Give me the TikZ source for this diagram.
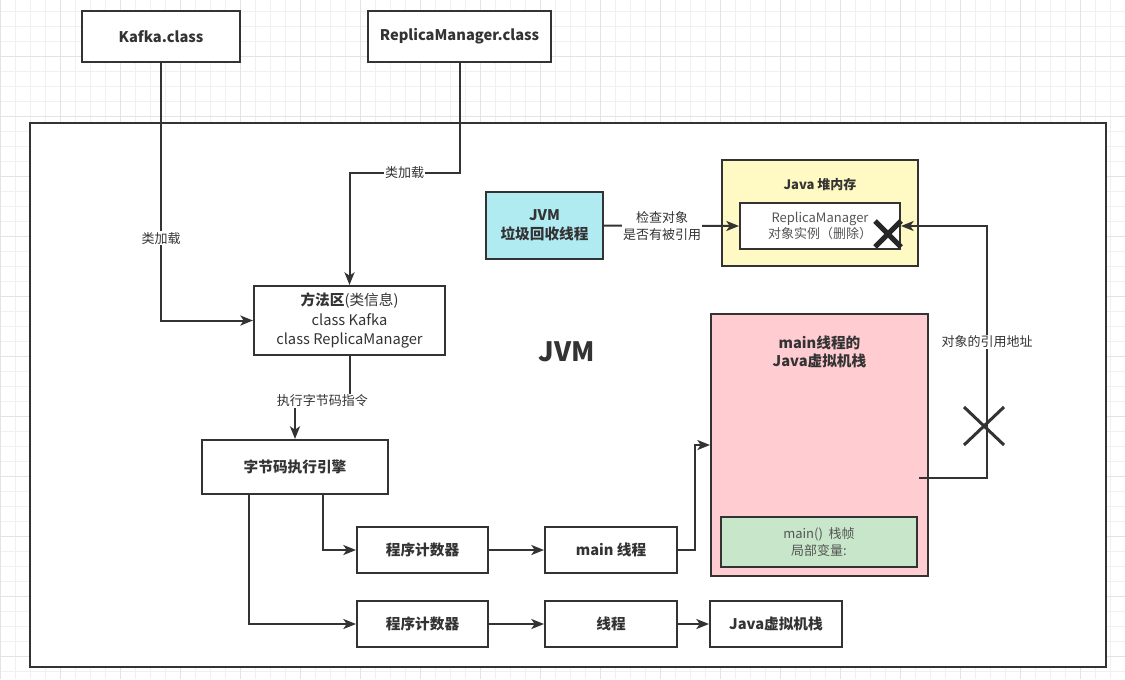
\documentclass[tikz,border=0pt]{standalone}
\usepackage{fontspec}
\setmainfont{Noto Sans CJK SC}
\usetikzlibrary{arrows.meta, positioning, calc}

\definecolor{linegray}{HTML}{333333}
\definecolor{softgray}{HTML}{555555}
\definecolor{gcblue}{HTML}{B1EBF2}
\definecolor{heapyellow}{HTML}{FFF9C4}
\definecolor{stackpink}{HTML}{FFCCD2}
\definecolor{framegreen}{HTML}{C8E6C9}
\definecolor{gridminor}{HTML}{F0F0F0}
\definecolor{gridmajor}{HTML}{E3E3E3}

\tikzset{
  box/.style={draw=linegray, line width=1.5pt, fill=white, text=linegray, align=center,
    inner sep=0pt, font=\fontsize{11}{14.5}\selectfont\bfseries},
  conn/.style={draw=linegray, line width=1.5pt, -{Stealth[length=9.5pt,width=7.5pt,inset=2.5pt]}},
  lbl/.style={fill=white, text=linegray, inner sep=1pt, align=center,
    font=\fontsize{9.75}{12.75}\selectfont},
  crossmark/.style={draw=linegray, line width=2.25pt},
}

\begin{document}
\begin{tikzpicture}[x=0.75pt, y=-0.75pt]
\useasboundingbox (0,0) rectangle (1125,679);

% background grid
\foreach \gx in {0,15,...,1125} \draw[gridminor, line width=0.75pt] (\gx,0) -- (\gx,679);
\foreach \gy in {11,26,...,679} \draw[gridminor, line width=0.75pt] (0,\gy) -- (1125,\gy);
\foreach \gx in {0,60,...,1125} \draw[gridmajor, line width=0.75pt] (\gx,0) -- (\gx,679);
\foreach \gy in {56,116,...,679} \draw[gridmajor, line width=0.75pt] (0,\gy) -- (1125,\gy);

% JVM frame
\node[box, minimum width=807pt, minimum height=408pt] (jvm) at (568,395) {};
\node[font=\fontsize{20}{24}\selectfont\bfseries, text=linegray] (jvmtitle) at (567,352) {JVM};

% class files
\node[box, minimum width=118.5pt, minimum height=38.25pt] (kafka) at (161,36.5) {Kafka.class};
\node[box, minimum width=137.25pt, minimum height=38.25pt] (rmclass) at (459.5,36.5) {ReplicaManager.class};

% method area and engine
\node[box, minimum width=143.25pt, minimum height=51.75pt, font=\fontsize{11}{14.5}\selectfont]
  (method) at (349.5,320.5) {\textbf{方法区}(类信息)\\class Kafka\\class ReplicaManager};
\node[box, minimum width=139.5pt, minimum height=40.5pt] (engine) at (295,467) {字节码执行引擎};

% threads
\node[box, minimum width=98.25pt, minimum height=34.5pt] (pcmain) at (422.5,550) {程序计数器};
\node[box, minimum width=99pt, minimum height=34.5pt] (mainthread) at (611,550) {main 线程};
\node[box, minimum width=98.25pt, minimum height=34.5pt] (pcother) at (422.5,624) {程序计数器};
\node[box, minimum width=99pt, minimum height=34.5pt] (thread) at (611,624) {线程};
\node[box, minimum width=99pt, minimum height=34.5pt] (jvmstack) at (776,624) {Java虚拟机栈};

% main thread stack
\node[box, fill=stackpink, minimum width=162.75pt, minimum height=196.5pt] (mainstack) at (819.5,445) {};
\node[font=\fontsize{11}{13.5}\selectfont\bfseries, text=linegray, align=center]
  (stacktitle) at (819.5,352) {main线程的\\Java虚拟机栈};
\node[box, fill=framegreen, minimum width=147pt, minimum height=37.5pt,
  font=\fontsize{9.75}{12.5}\selectfont, text=softgray] (frame) at (819,542) {main()\ \ 栈帧\\局部变量:};

% gc and heap
\node[box, fill=gcblue, minimum width=87.75pt, minimum height=50.25pt] (gc) at (544.5,225.5) {JVM\\垃圾回收线程};
\node[box, fill=heapyellow, minimum width=147pt, minimum height=79.5pt] (heap) at (820,213) {};
\node[font=\fontsize{9.75}{12}\selectfont\bfseries, text=linegray] (heaptitle) at (820,185) {Java 堆内存};
\node[box, minimum width=120pt, minimum height=34.5pt, font=\fontsize{9.75}{12.5}\selectfont,
  text=softgray] (obj) at (820,226) {ReplicaManager\\对象实例（删除）};

% connectors
\draw[conn] (kafka.south) |- (method.west) node[lbl, pos=0.34] {类加载};
\draw[conn] (rmclass.south) |- ($(method.north)+(0,-112)$) node[lbl, pos=0.75] {类加载} -- (method.north);
\draw[conn] (method.south) -- ++(0,45) -| (engine.north) node[lbl, pos=0.25] {执行字节码指令};
\draw[conn] ($(engine.south west)!0.65!(engine.south east)$) |- (pcmain.west);
\draw[conn] ($(engine.south west)!0.253!(engine.south east)$) |- (pcother.west);
\draw[conn] (pcmain) -- (mainthread);
\draw[conn] (mainthread.east) -- ++(17,0) |- (mainstack.west);
\draw[conn] (pcother) -- (thread);
\draw[conn] (thread) -- (jvmstack);
\draw[conn] (gc.east) -- (obj.west) node[lbl, pos=0.43] {检查对象\\是否有被引用};
\coordinate (refstart) at (919,478);
\draw[conn, line width=1.2pt] (refstart) -- ++(68,0) |- (obj.east) node[lbl, pos=0.27] {对象的引用地址};

% crosses
\draw[crossmark] (964,407) -- (1004,445) (964,445) -- (1004,407);
\draw[crossmark, line width=3.75pt, draw=black!85] (875,221) -- (901,247) (875,247) -- (901,221);
\end{tikzpicture}
\end{document}
